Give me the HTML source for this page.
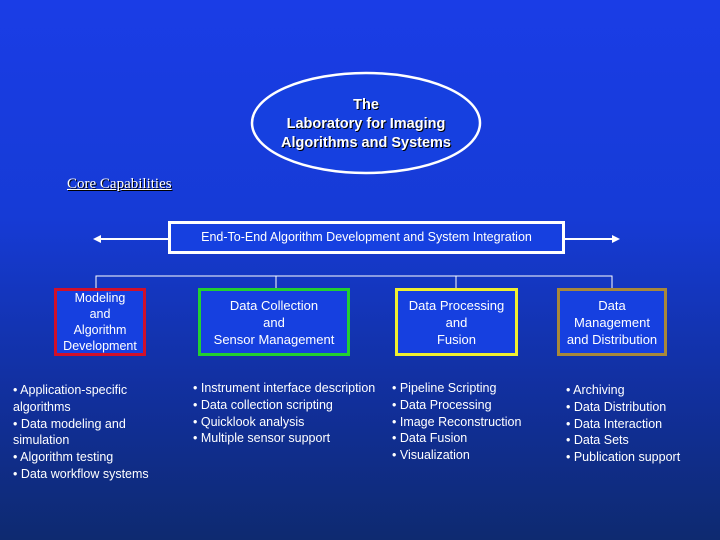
<!DOCTYPE html>
<html><head><style>
body{margin:0;width:720px;height:540px;overflow:hidden;background:linear-gradient(#1a3de6 0%,#163bd6 40%,#112f9a 75%,#0e2a70 100%);font-family:"Liberation Sans",sans-serif;color:#fff;position:relative}
.a{position:absolute}
.box{position:absolute;box-sizing:border-box;border:3px solid;background:#1640e0;text-align:center;font-size:13px;line-height:17px;display:flex;align-items:center;justify-content:center}
.l{position:absolute;font-size:12.5px;line-height:16.8px;white-space:nowrap}
</style></head><body>
<svg class="a" style="left:0;top:0" width="720" height="540">
<ellipse cx="366" cy="123" rx="114" ry="50" fill="#1640e0" stroke="#fff" stroke-width="2.5"/>
<line x1="96" y1="239" x2="168" y2="239" stroke="#fff" stroke-width="2"/>
<line x1="565" y1="239" x2="617" y2="239" stroke="#fff" stroke-width="2"/>
<polygon points="93,239 101,235 101,243" fill="#fff"/>
<polygon points="620,239 612,235 612,243" fill="#fff"/>
<polyline points="96,288 96,276 612,276 612,288" fill="none" stroke="#fff" stroke-width="1"/>
<line x1="276" y1="276" x2="276" y2="288" stroke="#fff"/>
<line x1="456" y1="276" x2="456" y2="288" stroke="#fff"/>
</svg>
<div class="a" style="left:252px;top:96px;width:228px;text-align:center;font-size:14.5px;font-weight:bold;line-height:19px;text-shadow:1px 1px 0 #000">The<br>Laboratory for Imaging<br>Algorithms and Systems</div>
<div class="a" style="left:67px;top:176px;font-family:'Liberation Serif',serif;font-size:15px;text-decoration:underline;text-shadow:1px 1px 0 #000">Core Capabilities</div>
<div class="box" style="left:168px;top:221px;width:397px;height:33px;border-color:#fff;font-size:12.5px">End-To-End Algorithm Development and System Integration</div>
<div class="box" style="left:54px;top:288px;width:92px;height:68px;border-color:#d0102a;line-height:16px;font-size:12.5px;padding:0">Modeling<br>and<br>Algorithm<br>Development</div>
<div class="box" style="left:198px;top:288px;width:152px;height:68px;border-color:#22d030">Data Collection<br>and<br>Sensor Management</div>
<div class="box" style="left:395px;top:288px;width:123px;height:68px;border-color:#f0f030">Data Processing<br>and<br>Fusion</div>
<div class="box" style="left:557px;top:288px;width:110px;height:68px;border-color:#a8883a">Data<br>Management<br>and Distribution</div>
<div class="l" style="left:13px;top:382px">• Application-specific<br>algorithms<br>• Data modeling and<br>simulation<br>• Algorithm testing<br>• Data workflow systems</div>
<div class="l" style="left:193px;top:380px">• Instrument interface description<br>• Data collection scripting<br>• Quicklook analysis<br>• Multiple sensor support</div>
<div class="l" style="left:392px;top:380px">• Pipeline Scripting<br>• Data Processing<br>• Image Reconstruction<br>• Data Fusion<br>• Visualization</div>
<div class="l" style="left:566px;top:382px">• Archiving<br>• Data Distribution<br>• Data Interaction<br>• Data Sets<br>• Publication support</div>
</body></html>
